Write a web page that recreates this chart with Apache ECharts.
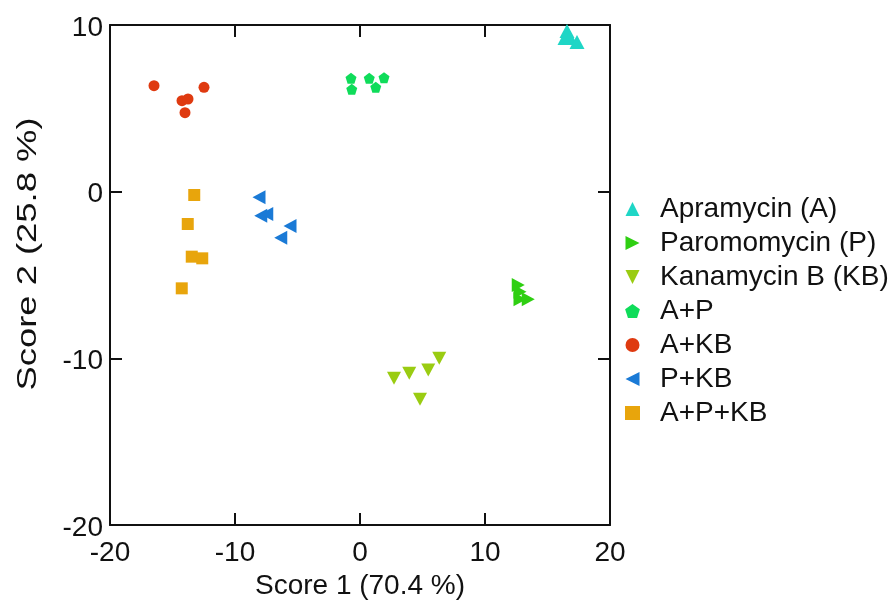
<!DOCTYPE html>
<html>
<head>
<meta charset="utf-8">
<script src="https://cdn.jsdelivr.net/npm/echarts@6/dist/echarts.min.js"></script>
<style>
  html, body { margin: 0; padding: 0; background: #fff; }
  #chart { width: 896px; height: 608px; }
</style>
</head>
<body>
<div id="chart"></div>
<script>
// PCA scores: [Score 1, Score 2] per sample
const apramycin = [[16.56, 9.64], [16.4, 9.22], [16.8, 9.22], [17.36, 8.98]];
const paromomycin = [[12.66, -5.6], [12.8, -6.0], [12.8, -6.46], [13.46, -6.46]];
const kanamycinB = [[2.72, -11.2], [3.94, -10.9], [5.46, -10.7], [6.34, -10.0], [4.8, -12.46]];
const aP = [[-0.72, 6.8], [-0.66, 6.14], [0.74, 6.8], [1.92, 6.84], [1.26, 6.26]];
const aKB = [[-16.48, 6.36], [-12.48, 6.26], [-14.24, 5.46], [-13.76, 5.56], [-14.0, 4.74]];
const pKB = [[-8.08, -0.34], [-7.94, -1.44], [-7.46, -1.34], [-5.6, -2.06], [-6.34, -2.76]];
const aPKB = [[-13.26, -0.2], [-13.78, -1.94], [-13.46, -3.9], [-12.62, -4.0], [-14.26, -5.8]];

const seriesNames = ['Apramycin (A)', 'Paromomycin (P)', 'Kanamycin B (KB)', 'A+P', 'A+KB', 'P+KB', 'A+P+KB'];
const xTitle = 'Score 1 (70.4 %)';
const yTitle = 'Score 2 (25.8 %)';

// marker shapes
const triUp = 'path://M0,-1 L1,1 L-1,1 Z';
const triRight = 'path://M-1,-1 L1,0 L-1,1 Z';
const triLeft = 'path://M1,-1 L-1,0 L1,1 Z';
const triDown = 'path://M-1,-1 L1,-1 L0,1 Z';
const pentagon = 'path://M0,-10 L9.51,-3.09 L5.88,8.09 L-5.88,8.09 L-9.51,-3.09 Z';

const font = 'Liberation Sans, Arial, sans-serif';
const ink = '#111';

const styles = [
  { data: apramycin,   color: '#1fd6c6', symbol: triUp,    size: [15, 14] },
  { data: paromomycin, color: '#2fcf12', symbol: triRight, size: [13, 14] },
  { data: kanamycinB,  color: '#9acc12', symbol: triDown,  size: [14, 13] },
  { data: aP,          color: '#0fdc5a', symbol: pentagon, size: 11 },
  { data: aKB,         color: '#df3a10', symbol: 'circle', size: 11 },
  { data: pKB,         color: '#1a7ad6', symbol: triLeft,  size: [13, 14] },
  { data: aPKB,        color: '#e8a50c', symbol: 'rect',   size: 12 }
];

const axisLine = { show: true, onZero: false, lineStyle: { color: ink, width: 2 } };
const axisTick = { show: true, inside: true, length: 12, lineStyle: { color: ink, width: 2 } };
const labelStyle = { color: ink, fontSize: 28, fontFamily: font };

const chart = echarts.init(document.getElementById('chart'), null, { renderer: 'canvas' });
chart.setOption({
  animation: false,
  backgroundColor: '#fff',
  grid: { left: 110, top: 25, width: 500, height: 500 },
  legend: {
    orient: 'vertical',
    left: 620,
    top: 190,
    itemWidth: 15,
    itemHeight: 14,
    itemGap: 6,
    textStyle: { color: ink, fontSize: 28, fontFamily: font, padding: [0, 0, 0, 15] },
    data: seriesNames.map((n, i) => ({ name: n, icon: styles[i].symbol }))
  },
  // y-axis title, drawn stretched along its reading direction
  graphic: [{
    type: 'text',
    x: 28,
    y: 254,
    rotation: Math.PI / 2,
    scaleX: 1.3,
    style: {
      text: yTitle,
      fill: ink,
      font: '28px ' + font,
      align: 'center',
      verticalAlign: 'middle'
    }
  }],
  xAxis: [
    {
      type: 'value', min: -20, max: 20, interval: 10, position: 'bottom',
      name: xTitle, nameLocation: 'middle', nameGap: 32,
      nameTextStyle: labelStyle,
      axisLine, axisTick, splitLine: { show: false },
      axisLabel: Object.assign({ margin: 14 }, labelStyle)
    },
    {
      type: 'value', min: -20, max: 20, interval: 10, position: 'top',
      axisLine, axisTick, splitLine: { show: false }, axisLabel: { show: false }
    }
  ],
  yAxis: [
    {
      type: 'value', min: -20, max: 10, interval: 10, position: 'left',
      axisLine, axisTick, splitLine: { show: false },
      axisLabel: Object.assign({ margin: 7, verticalAlign: 'top', lineHeight: 6 }, labelStyle)
    },
    {
      type: 'value', min: -20, max: 10, interval: 10, position: 'right',
      axisLine, axisTick, splitLine: { show: false }, axisLabel: { show: false }
    }
  ],
  series: styles.map((s, i) => ({
    name: seriesNames[i],
    type: 'scatter',
    data: s.data,
    symbol: s.symbol,
    symbolSize: s.size,
    itemStyle: { color: s.color, opacity: 1 }
  }))
});
</script>
</body>
</html>
